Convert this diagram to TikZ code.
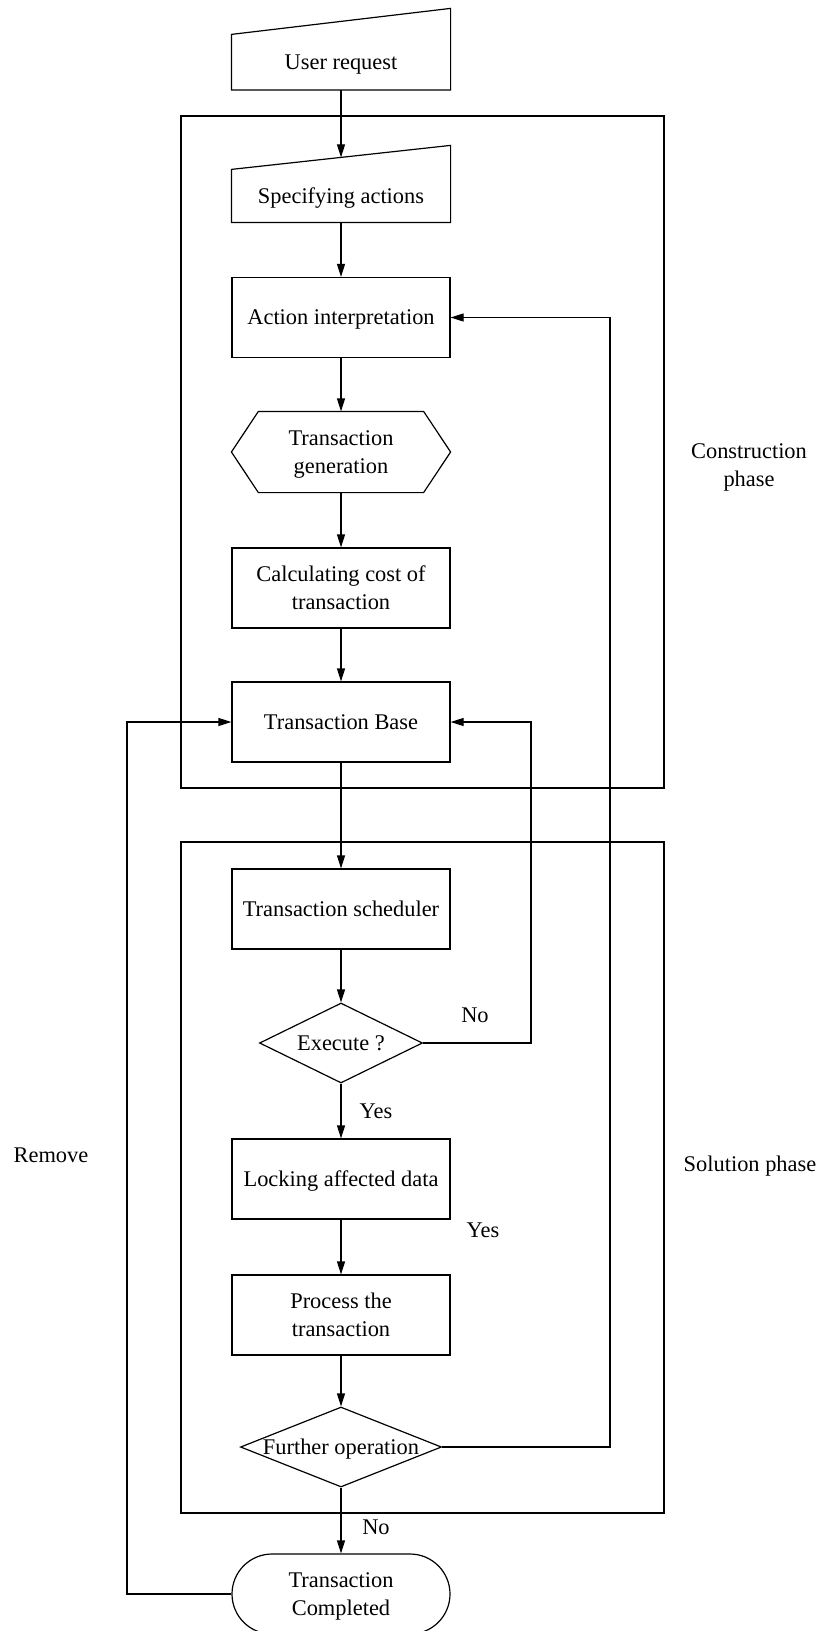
\documentclass[tikz,border=0pt]{standalone}
\usepackage{fontspec}
\setmainfont{Liberation Serif}
\usetikzlibrary{arrows.meta,shapes.geometric}
\begin{document}
\begin{tikzpicture}[x=0.5pt,y=-0.5pt,
  every node/.style={font=\fontsize{11.2}{14}\selectfont, align=center},
  line/.style={line width=0.6pt},
  arr/.style={line, -{Triangle[length=6.5pt,width=4pt]}},
  box/.style={line, draw, rectangle, minimum width=109pt, minimum height=40pt, inner sep=0pt, text depth=0pt},
  shapebox/.style={box, draw=none},
  decision/.style={line, draw, diamond, inner sep=0pt, minimum height=40pt},
  frame/.style={line, draw, rectangle, inner sep=0pt},
  lbl/.style={inner sep=0pt},
  inlbl/.style={inner sep=0pt, text depth=0pt}]
\useasboundingbox (0,0) rectangle (821,1631);
\clip (0,0) rectangle (821,1631);

% phase frames
\node[frame, minimum width=241.5pt, minimum height=336pt] (cphase) at (422.5,452) {};
\node[frame, minimum width=241.5pt, minimum height=335.5pt] (sphase) at (422.5,1177.5) {};

% manual input: user request
\node[shapebox, minimum height=27.25pt] (ur) at (341,62.25) {User request};
\draw[line] (ur.south west) -- (ur.north west) -- ([yshift=13pt]ur.north east) -- (ur.south east) -- cycle;

% manual input: specifying actions
\node[shapebox, minimum height=26pt] (sa) at (341,196) {Specifying actions};
\draw[line] (sa.south west) -- (sa.north west) -- ([yshift=12pt]sa.north east) -- (sa.south east) -- cycle;

\node[box] (ai) at (341,317.5) {Action interpretation};

% preparation hexagon
\node[shapebox] (tg) at (341,452) {Transaction\\generation};
\draw[line] (tg.west) -- ([xshift=13.5pt]tg.north west) -- ([xshift=-13.5pt]tg.north east)
  -- (tg.east) -- ([xshift=-13.5pt]tg.south east) -- ([xshift=13.5pt]tg.south west) -- cycle;

\node[box] (cc) at (341,588) {Calculating cost of\\transaction};
\node[box] (tb) at (341,722) {Transaction Base};
\node[box] (ts) at (341,909) {Transaction scheduler};

\node[decision, minimum width=81.5pt] (ex) at (341,1043) {};
\node[inlbl] at (ex) {Execute ?};

\node[box] (la) at (341,1179) {Locking affected data};
\node[box] (pt) at (341,1315) {Process the\\transaction};

\node[decision, minimum width=100.5pt] (fo) at (341,1447) {};
\node[inlbl] at (fo) {Further operation};

\node[box, rounded corners=20pt] (tc) at (341,1594) {Transaction\\Completed};

% loop lanes
\coordinate (noLane) at (531,722);
\coordinate (loopLane) at (610,317.5);
\coordinate (rmLane) at (127,722);

% main flow
\draw[arr] (ur.south) -- ([yshift=6pt]sa.north);
\draw[arr] (sa.south) -- (ai.north);
\draw[arr] (ai.south) -- (tg.north);
\draw[arr] (tg.south) -- (cc.north);
\draw[arr] (cc.south) -- (tb.north);
\draw[arr] (tb.south) -- (ts.north);
\draw[arr] (ts.south) -- (ex.north);
\draw[arr] (ex.south) -- (la.north);
\draw[arr] (la.south) -- (pt.north);
\draw[arr] (pt.south) -- (fo.north);
\draw[arr] (fo.south) -- (tc.north);

% feedback connectors
\draw[arr] (ex.east) -| (noLane) -- (tb.east);
\draw[arr] (fo.east) -| (loopLane) -- (ai.east);
\draw[arr] (tc.west) -| (rmLane) -- (tb.west);

% labels
\node[lbl] at (475,1015) {No};
\node[lbl] at (376,1111) {Yes};
\node[lbl] at (483,1230) {Yes};
\node[lbl] at (376,1527) {No};
\node[lbl] at (51,1155) {Remove};
\node[lbl] at (749,467) {Construction\\phase};
\node[lbl] at (750,1166) {Solution phase};
\end{tikzpicture}
\end{document}
